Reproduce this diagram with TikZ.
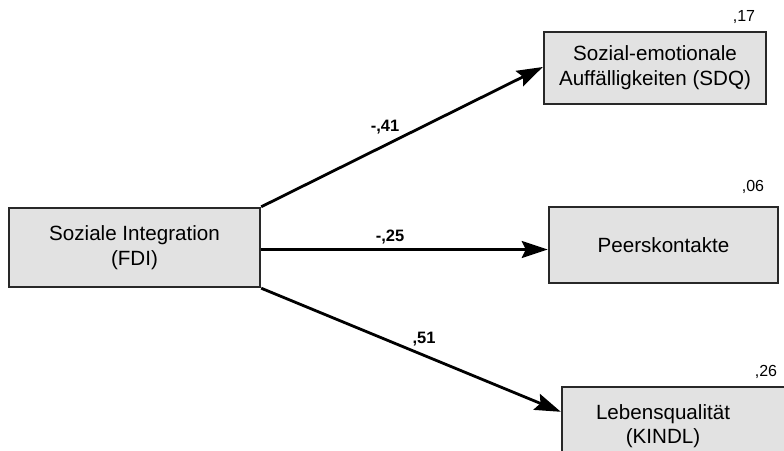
\documentclass[tikz,border=0pt]{standalone}
\usepackage{fontspec}
\setmainfont{Liberation Sans}
\usetikzlibrary{arrows.meta}
\definecolor{boxfill}{RGB}{226,226,226}
\definecolor{boxline}{RGB}{40,40,40}
\begin{document}
\begin{tikzpicture}[x=1pt,y=-1pt,
  varbox/.style={draw=boxline, line width=2.4pt, fill=boxfill, align=center, inner sep=0pt,
     font=\fontsize{20.6}{25}\selectfont},
  vtext/.style={align=center, inner sep=0pt, font=\fontsize{20.6}{24}\selectfont},
  path/.style={line width=2.8pt, -{Stealth[length=26pt,width=17pt,inset=4pt]}},
  coef/.style={font=\fontsize{16.5}{18}\selectfont\bfseries, inner sep=0pt},
  rsq/.style={font=\fontsize{16}{18}\selectfont, inner sep=0pt}]
\useasboundingbox (0,0) rectangle (784,450);
\clip (0,0) rectangle (784,450);
\node[varbox, minimum width=251pt, minimum height=79pt] (fdi) at (134.5,247.5) {Soziale Integration\\(FDI)};
\node[varbox, minimum width=222pt, minimum height=72pt] (sdq) at (655,68) {Sozial-emotionale\\Auff\"alligkeiten (SDQ)};
\node[varbox, minimum width=229pt, minimum height=76pt] (peer) at (663.5,245) {Peerskontakte};
\node[varbox, minimum width=240pt, minimum height=90pt] (kindl) at (682,432) {};
\node[vtext] (kindltext) at (663,426) {Lebensqualit\"at\\(KINDL)};
\draw[path] (fdi.north east) -- ([yshift=1pt]sdq.west);
\draw[path] ([yshift=-2pt]fdi.east) -- ([yshift=-2pt]fdi.east -| peer.west);
\draw[path] (fdi.south east) -- ([yshift=-26pt]kindl.north west);
\node[coef] (c1) at (385,127) {-,41};
\node[coef] (c2) at (390,237) {-,25};
\node[coef] (c3) at (424,339) {,51};
\node[rsq] (r1) at (744,17) {,17};
\node[rsq] (r2) at (753,187) {,06};
\node[rsq] (r3) at (766,372) {,26};
\end{tikzpicture}
\end{document}
